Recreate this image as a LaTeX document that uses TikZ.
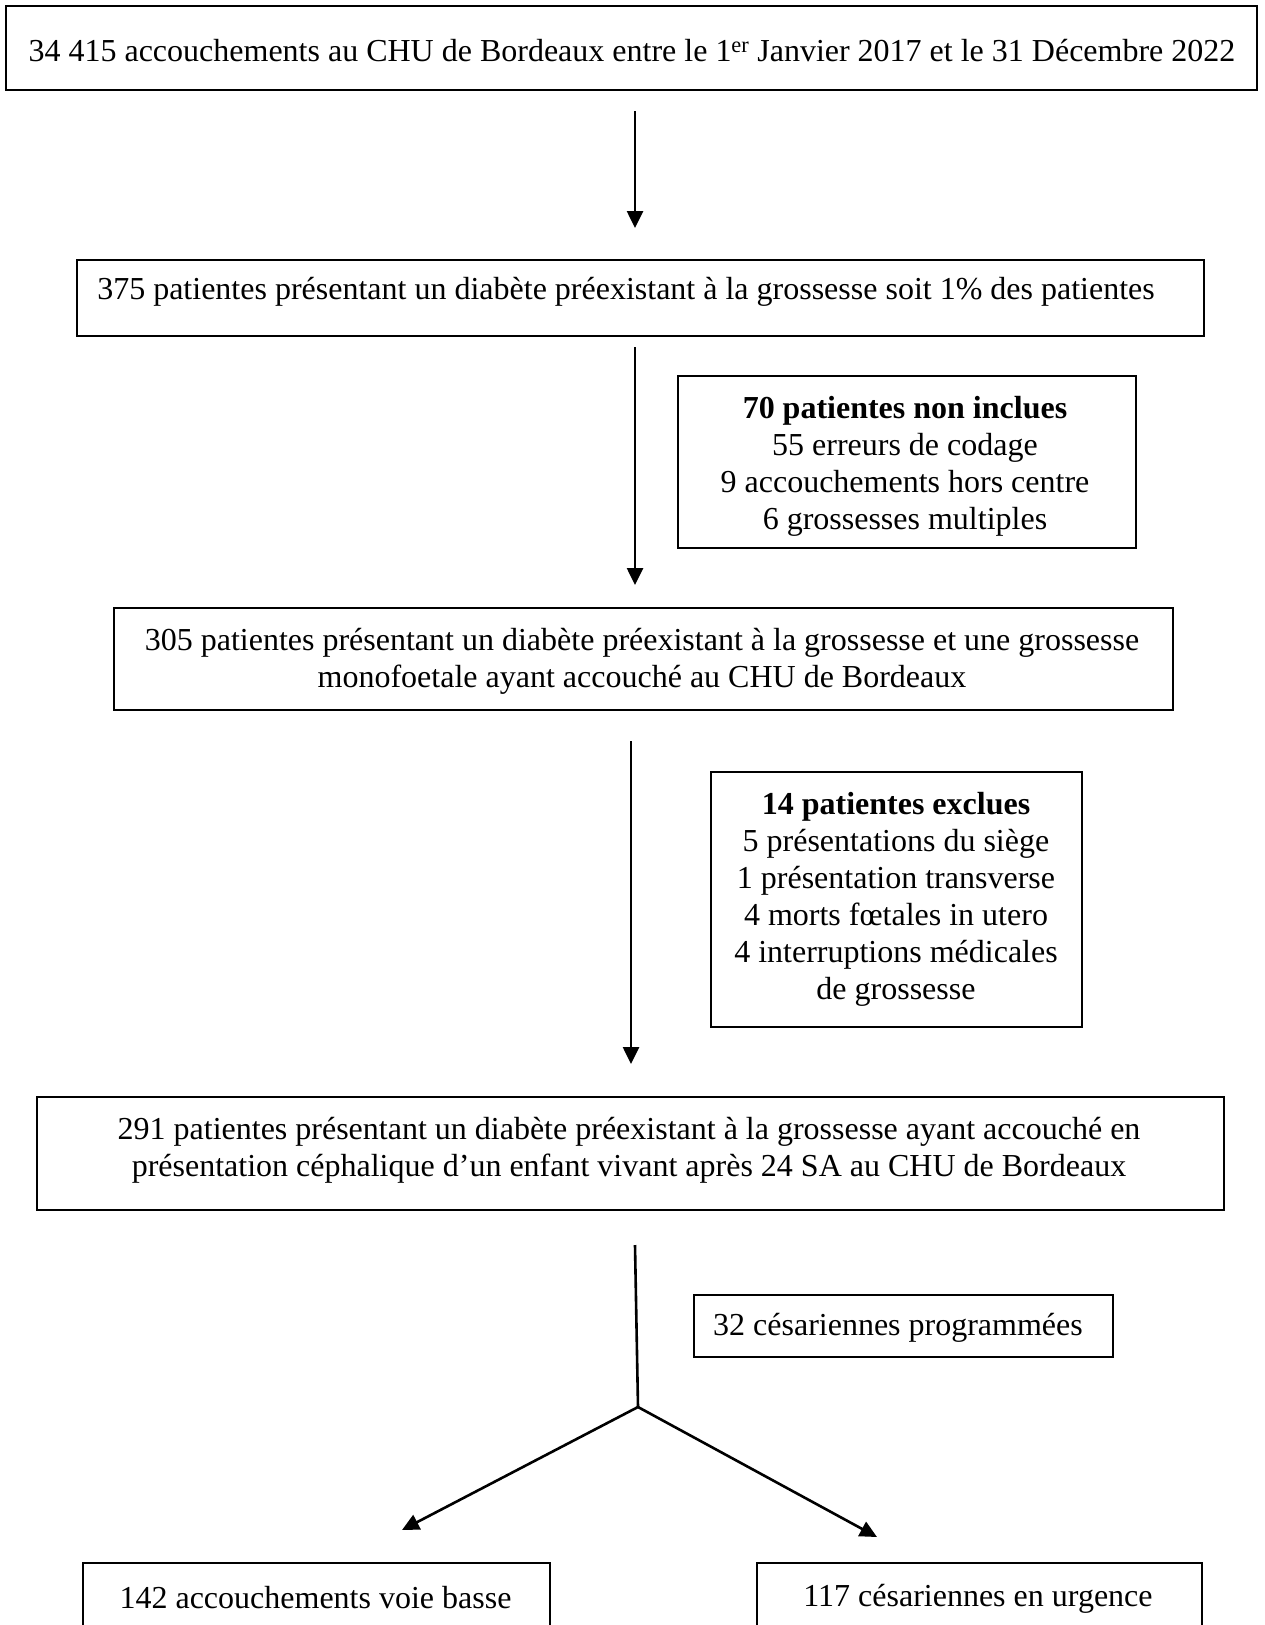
\documentclass[tikz,border=0pt]{standalone}
\usepackage{fontspec}
\setmainfont{Liberation Serif}
\usetikzlibrary{arrows.meta}
\begin{document}
\begin{tikzpicture}[x=1pt,y=-1pt,
  box/.style={draw=black,line width=2.4pt,rectangle,inner sep=0pt},
  txt/.style={inner sep=0pt,align=center,font=\fontsize{32}{37}\selectfont},
  conn/.style={line width=2.6pt,-{Triangle[width=16pt,length=17pt]}},
  seg/.style={line width=2.6pt}]
\useasboundingbox (0,0) rectangle (1265,1625);
\fill[white] (0,0) rectangle (1265,1625);
% boxes
\node[box,minimum width=1251pt,minimum height=84pt] (b1) at (631.5,48) {};
\node[box,minimum width=1127pt,minimum height=76pt] (b2) at (640.5,298) {};
\node[box,minimum width=458pt,minimum height=172pt] (e1) at (907,462) {};
\node[box,minimum width=1059pt,minimum height=102pt] (b3) at (643.5,659) {};
\node[box,minimum width=371pt,minimum height=255pt] (e2) at (896.5,899.5) {};
\node[box,minimum width=1187pt,minimum height=113pt] (b4) at (630.5,1153.5) {};
\node[box,minimum width=419pt,minimum height=62pt] (pr) at (903.5,1326) {};
\node[box,minimum width=467pt,minimum height=70pt] (bl) at (316.5,1598) {};
\node[box,minimum width=445pt,minimum height=70pt] (br) at (979.5,1598) {};
% texts
\node[txt] (t1) at (632,51) {34 415 accouchements au CHU de Bordeaux entre le 1\textsuperscript{er} Janvier 2017 et le 31 Décembre 2022};
\node[txt] (t2) at (626,292) {375 patientes présentant un diabète préexistant à la grossesse soit 1\% des patientes};
\node[txt] (te1) at (905,466) {\textbf{70 patientes non inclues}\\55 erreurs de codage\\9 accouchements hors centre\\6 grossesses multiples};
\node[txt] (t3) at (642,661) {305 patientes présentant un diabète préexistant à la grossesse et une grossesse\\monofoetale ayant accouché au CHU de Bordeaux};
\node[txt] (te2) at (896,899) {\textbf{14 patientes exclues}\\5 présentations du siège\\1 présentation transverse\\4 morts fœtales in utero\\4 interruptions médicales\\de grossesse};
\node[txt] (t4) at (629,1150) {291 patientes présentant un diabète préexistant à la grossesse ayant accouché en\\présentation céphalique d’un enfant vivant après 24 SA au CHU de Bordeaux};
\node[txt] (tpr) at (898,1328) {32 césariennes programmées};
\node[txt] (tbl) at (315.5,1598) {142 accouchements voie basse};
\node[txt] (tbr) at (978,1599) {117 césariennes en urgence};
% connector points
\coordinate (a1s) at (635,111);
\coordinate (a1e) at (635,228);
\coordinate (a2s) at (635,347);
\coordinate (a2e) at (635,585);
\coordinate (a3s) at (631,741);
\coordinate (a3e) at (631,1064);
\coordinate (ls) at (635,1245);
\coordinate (br0) at (638,1407);
\coordinate (lend) at (402,1530);
\coordinate (rend) at (877,1537);
\draw[conn] (a1s) -- (a1e);
\draw[conn] (a2s) -- (a2e);
\draw[conn] (a3s) -- (a3e);
\draw[seg,line join=miter] (ls) -- (br0);
\draw[conn] (br0) -- (lend);
\draw[conn] (br0) -- (rend);
\end{tikzpicture}
\end{document}
